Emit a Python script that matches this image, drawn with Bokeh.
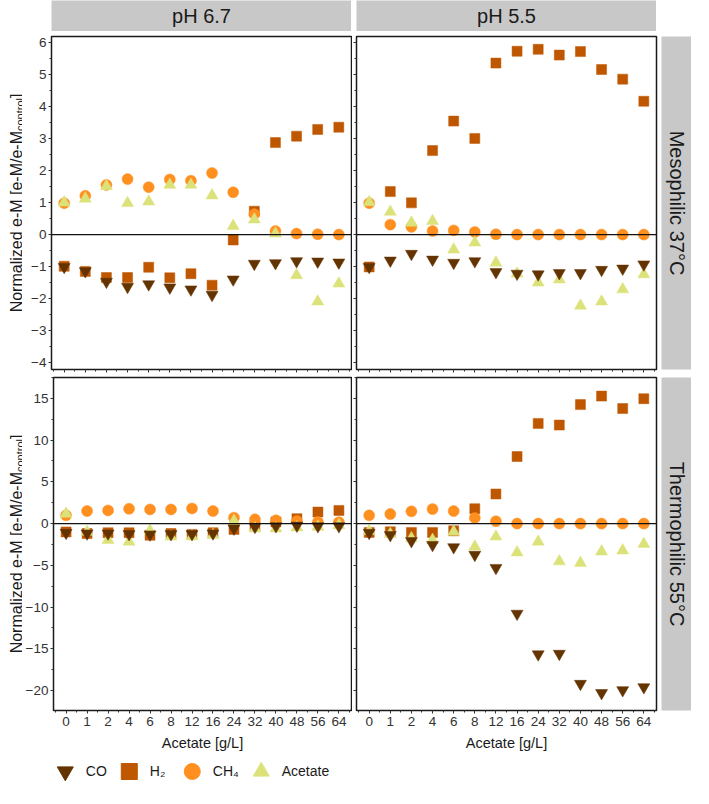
import math
from bokeh.plotting import figure
from bokeh.models import (Range1d, FixedTicker, Span, Label, Legend, LegendItem,
                          ColumnDataSource, Spacer)
from bokeh.layouts import column, row
from bokeh.embed import file_html
from bokeh.resources import INLINE

# ---------------- data ----------------
acetate_gL = ["0", "1", "2", "4", "6", "8", "12", "16", "24", "32", "40", "48", "56", "64"]
col_labels = ["pH 6.7", "pH 5.5"]
row_labels = ["Mesophilic 37°C", "Thermophilic 55°C"]

meso67_co = [-1.01, -1.14, -1.47, -1.63, -1.55, -1.65, -1.71, -1.88, -1.40, -0.91, -0.89, -0.83, -0.84, -0.87]
meso67_h2 = [-0.99, -1.15, -1.34, -1.34, -1.02, -1.35, -1.22, -1.58, -0.17, 0.73, 2.87, 3.07, 3.28, 3.35]
meso67_ch4 = [0.98, 1.21, 1.55, 1.73, 1.48, 1.72, 1.68, 1.92, 1.32, 0.64, 0.11, 0.03, 0.01, 0.0]
meso67_ac = [1.00, 1.12, 1.51, 0.98, 1.03, 1.55, 1.55, 1.22, 0.27, 0.47, 0.03, -1.27, -2.09, -1.53]

meso55_co = [-1.01, -0.81, -0.60, -0.78, -0.88, -0.83, -1.17, -1.22, -1.24, -1.20, -1.20, -1.10, -1.06, -0.93]
meso55_h2 = [-1.01, 1.34, 0.99, 2.62, 3.54, 3.00, 5.35, 5.72, 5.78, 5.60, 5.71, 5.15, 4.85, 4.16]
meso55_ch4 = [0.98, 0.31, 0.24, 0.11, 0.13, 0.08, 0.01, 0.0, 0.0, 0.0, 0.0, 0.0, 0.0, 0.0]
meso55_ac = [1.01, 0.71, 0.37, 0.42, -0.47, -0.25, -0.88, -1.22, -1.50, -1.40, -2.22, -2.09, -1.71, -1.24]

thermo67_co = [-1.10, -1.18, -1.18, -1.26, -1.30, -1.26, -1.26, -1.18, -0.59, -0.39, -0.31, -0.24, -0.31, -0.31]
thermo67_h2 = [-1.00, -1.20, -1.10, -1.10, -1.40, -1.20, -1.30, -1.10, -0.70, -0.30, 0.20, 0.59, 1.38, 1.57]
thermo67_ch4 = [0.98, 1.50, 1.57, 1.77, 1.69, 1.69, 1.81, 1.50, 0.71, 0.51, 0.39, 0.31, 0.20, 0.16]
thermo67_ac = [1.18, -1.00, -1.97, -2.17, -0.85, -1.57, -1.57, -1.38, 0.31, -0.59, -0.59, -0.47, -0.39, -0.20]

thermo55_co = [-1.10, -1.38, -2.09, -2.56, -2.83, -3.74, -5.31, -10.8, -15.67, -15.6, -19.2, -20.3, -19.96, -19.6]
thermo55_h2 = [-1.06, -0.98, -1.06, -1.06, -0.87, 1.77, 3.54, 8.03, 12.0, 11.8, 14.25, 15.27, 13.78, 14.96]
thermo55_ch4 = [0.98, 1.14, 1.46, 1.73, 1.50, 0.67, 0.28, 0.0, 0.0, 0.0, 0.0, 0.0, 0.0, 0.0]
thermo55_ac = [-0.90, -1.26, -1.77, -1.97, -0.98, -2.76, -1.57, -3.46, -2.17, -4.53, -4.72, -3.35, -3.23, -2.44]

top_yticks = [-4, -3, -2, -1, 0, 1, 2, 3, 4, 5, 6]
bottom_yticks = [-20, -15, -10, -5, 0, 5, 10, 15]

# ---------------- styles ----------------
FONT = "Liberation Sans"
FW, FH = 300, 333
LAB_W, AX_W = 22, 29
TXT = "#333333"
C_CO, C_H2, C_CH4, C_AC = "#633300", "#BF5700", "#FF8F1F", "#DCE27A"
STRIP = "#C8C8C8"

# draw order: H2, CH4, Acetate, CO (CO on top)
styles = [("H2", "square", C_H2, 10), ("CH4", "circle", C_CH4, 11),
          ("Ac", "triangle", C_AC, 12), ("CO", "inverted_triangle", C_CO, 12)]

x_idx = list(range(len(acetate_gL)))


def fmt(v):
    return str(v).replace("-", "\u2212")


def make_panel(series, yr, yticks, yminor, show_x, show_y, min_left, min_right, min_bottom):
    p = figure(width=min_left + FW + min_right, height=1 + FH + min_bottom,
               x_range=Range1d(-0.6, 13.6), y_range=Range1d(*yr),
               output_backend="svg", toolbar_location=None, title=None,
               min_border_left=min_left, min_border_right=min_right,
               min_border_top=1, min_border_bottom=min_bottom)
    p.xgrid.visible = False
    p.ygrid.visible = False
    p.outline_line_color = "#1a1a1a"
    p.outline_line_width = 1.5
    p.add_layout(Span(location=0, dimension="width", line_color="#111111", line_width=1.3))

    xa = p.xaxis[0]
    xa.ticker = FixedTicker(ticks=x_idx, minor_ticks=[i + 0.5 for i in range(-1, len(acetate_gL))])
    xa.major_label_overrides = {i: lab for i, lab in enumerate(acetate_gL)}
    ya = p.yaxis[0]
    ya.ticker = FixedTicker(ticks=yticks, minor_ticks=yminor)
    ya.major_label_overrides = {t: fmt(t) for t in yticks}
    for a in (xa, ya):
        a.axis_line_color = None
        a.major_tick_in = 0
        a.major_tick_out = 3
        a.minor_tick_in = 0
        a.minor_tick_out = 2
        a.major_tick_line_color = "#333333"
        a.minor_tick_line_color = "#333333"
        a.major_label_text_font = FONT
        a.major_label_text_font_size = "13.5px"
        a.major_label_text_color = TXT
    ya.major_label_standoff = 2
    xa.major_label_standoff = 3
    if show_x:
        xa.axis_label = "Acetate [g/L]"
        xa.axis_label_text_font = FONT
        xa.axis_label_text_font_size = "14.5px"
        xa.axis_label_text_font_style = "normal"
        xa.axis_label_text_color = "#1a1a1a"
        xa.axis_label_standoff = 6
    else:
        xa.major_label_text_color = None
        xa.major_label_standoff = 0
    if not show_y:
        ya.major_label_text_color = None
        ya.major_label_standoff = 0

    for key, marker, color, size in styles:
        src = ColumnDataSource(dict(x=x_idx, y=series[key]))
        p.scatter("x", "y", source=src, marker=marker, size=size,
                  fill_color=color, line_color=color, line_width=0.5)
    return p


def make_ylabel(min_bottom):
    # rotated axis title with a subscript, in its own narrow figure (pixel data units)
    f = figure(width=LAB_W, height=1 + FH + min_bottom, x_range=Range1d(0, LAB_W),
               y_range=Range1d(0, FH), x_axis_type=None, y_axis_type=None,
               output_backend="svg", toolbar_location=None, title=None,
               min_border_left=0, min_border_right=0, min_border_top=1,
               min_border_bottom=min_bottom)
    f.outline_line_color = None
    w_main, w_sub, w_br = 181.3, 33.0, 4.4
    y0 = FH / 2 - (w_main + w_sub + w_br) / 2
    common = dict(angle=math.pi / 2, text_align="left", text_baseline="alphabetic",
                  text_font=FONT, text_color="#1a1a1a")
    f.add_layout(Label(x=15.5, y=y0, text="Normalized e-M [e-M/e-M", text_font_size="16px", **common))
    f.add_layout(Label(x=19, y=y0 + w_main, text="control", text_font_size="11px", **common))
    f.add_layout(Label(x=15.5, y=y0 + w_main + w_sub, text="]", text_font_size="16px", **common))
    return f


def make_strip(w, h, text, angle, min_top=0, min_bottom=0):
    f = figure(width=w, height=h, x_range=Range1d(0, 1), y_range=Range1d(0, 1),
               x_axis_type=None, y_axis_type=None, output_backend="svg", toolbar_location=None,
               title=None, min_border_left=0, min_border_right=0, min_border_top=min_top,
               min_border_bottom=min_bottom)
    f.background_fill_color = STRIP
    f.outline_line_color = None
    f.add_layout(Label(x=0.5, y=0.5, text=text, text_align="center", text_baseline="middle",
                       angle=angle, text_font=FONT, text_font_size="20px", text_color="#1a1a1a"))
    return f


top_yr = (-4.21, 6.18)
bot_yr = (-22.4, 17.5)
top_minor = [t + 0.5 for t in range(-5, 7)]
bot_minor = [t + 2.5 for t in range(-25, 20, 5)]

s_m67 = dict(CO=meso67_co, H2=meso67_h2, CH4=meso67_ch4, Ac=meso67_ac)
s_m55 = dict(CO=meso55_co, H2=meso55_h2, CH4=meso55_ch4, Ac=meso55_ac)
s_t67 = dict(CO=thermo67_co, H2=thermo67_h2, CH4=thermo67_ch4, Ac=thermo67_ac)
s_t55 = dict(CO=thermo55_co, H2=thermo55_h2, CH4=thermo55_ch4, Ac=thermo55_ac)

TOP_B, BOT_B = 7, 46
pTL = make_panel(s_m67, top_yr, top_yticks, top_minor, False, True, AX_W, 1, TOP_B)
pTR = make_panel(s_m55, top_yr, top_yticks, top_minor, False, False, 4, 5, TOP_B)
pBL = make_panel(s_t67, bot_yr, bottom_yticks, bot_minor, True, True, AX_W, 1, BOT_B)
pBR = make_panel(s_t55, bot_yr, bottom_yticks, bot_minor, True, False, 4, 5, BOT_B)

stripA = make_strip(FW, 31, col_labels[0], 0)
stripB = make_strip(FW, 31, col_labels[1], 0)
stripM = make_strip(30, 1 + FH + TOP_B, row_labels[0], -math.pi / 2, 1, TOP_B)
stripT = make_strip(30, 1 + FH + BOT_B, row_labels[1], -math.pi / 2, 1, BOT_B)

ylabT = make_ylabel(TOP_B)
ylabB = make_ylabel(BOT_B)

# legend (its renderers hold one point outside the visible range)
leg = figure(width=374, height=30, x_range=Range1d(0, 1), y_range=Range1d(0, 1),
             x_axis_type=None, y_axis_type=None, output_backend="svg", toolbar_location=None,
             title=None, min_border=0)
leg.outline_line_color = None
legend_entries = [("CO", "inverted_triangle", C_CO), ("H\u2082", "square", C_H2),
                  ("CH\u2084", "circle", C_CH4), ("Acetate", "triangle", C_AC)]
items = []
for lab, marker, color in legend_entries:
    r = leg.scatter(x=[5], y=[5], marker=marker, fill_color=color, line_color=color)
    items.append(LegendItem(label=lab, renderers=[r]))
legend = Legend(items=items, orientation="horizontal", location="center",
                glyph_width=40, glyph_height=40, label_standoff=1, spacing=2,
                padding=0, margin=0, border_line_color=None, background_fill_alpha=0,
                label_text_font=FONT, label_text_font_size="14px", label_text_color="#1a1a1a")
leg.add_layout(legend, "center")

layout = column(
    row(Spacer(width=LAB_W + AX_W, height=31), stripA, Spacer(width=5, height=31), stripB),
    Spacer(width=10, height=4),
    row(ylabT, pTL, pTR, stripM),
    row(ylabB, pBL, pBR, stripT),
    leg,
)

open("out.html", "w").write(file_html(layout, INLINE))
